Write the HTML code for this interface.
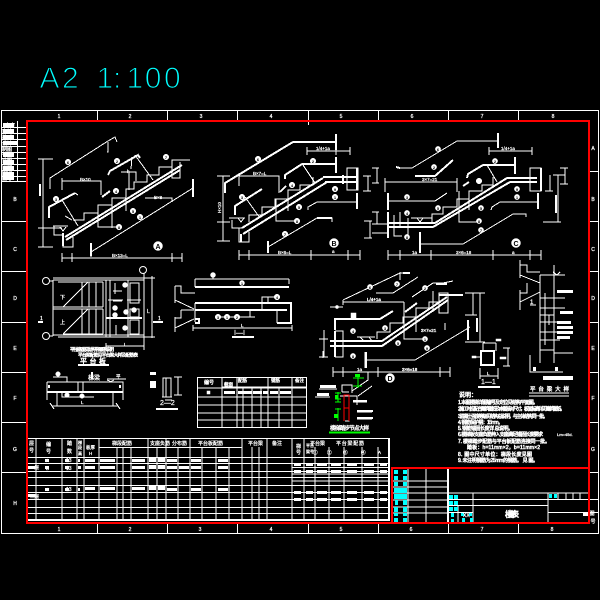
<!DOCTYPE html>
<html><head><meta charset="utf-8"><title>楼梯表</title>
<style>
html,body{margin:0;padding:0;background:#000;width:600px;height:600px;overflow:hidden}
svg{display:block}
text{font-family:"Liberation Sans","Noto Sans CJK SC",sans-serif;fill:#fff;stroke:#fff;stroke-width:.25;font-size:5px;shape-rendering:auto}
.g{fill:none;stroke:#fff;stroke-width:1;shape-rendering:crispEdges}
.b{stroke-width:2}
.f{fill:#fff;stroke:#fff;stroke-width:.5}
.m text{text-anchor:middle}
.n{fill:#000;stroke:none;font-size:4px;text-anchor:middle;font-weight:bold}
.r{fill:none;stroke:#f00;stroke-width:2;shape-rendering:crispEdges}
.c{fill:#0ff;stroke:none;shape-rendering:crispEdges}
.gr{fill:none;stroke:#0f0;stroke-width:1;shape-rendering:crispEdges}
</style></head><body>
<svg width="600" height="600" viewBox="0 0 600 600" xmlns="http://www.w3.org/2000/svg">
<rect width="600" height="600" fill="#000"/>

<text x="39.5 62 80 96.5 113 126.500 144.7 164" y="88" style="font-size:30px;fill:#0ff;stroke:#000;stroke-width:1.1">A2 1:100</text>

<!-- outer frame and rulers -->
<g class="g">
<path d="M1.5 110.5H598.5V533.5H1.5Z"/>
<path d="M97.5 110V121M167.5 110V121M237.5 110V121M308.5 110V125M378.5 110V121M448.5 110V121M518.5 110V121"/>
<path d="M97.5 523V533M167.5 523V533M237.5 523V533M308.5 523V533M378.5 523V533M448.5 523V533M518.5 523V533"/>
<path d="M589 171.5H598M589 221.5H598M589 271.5H598M589 322.5H598M589 372.5H598M589 422.5H598M589 472.5H598M589 499.5H598M589 512.5H598"/>
<path d="M2 181.5H27M2 221.5H27M2 271.5H27M2 322.5H27M2 372.5H27M2 422.5H27M2 472.5H27"/>
<path d="M2 127.5H27M2 133.5H27M2 139.5H27M2 146.5H27M2 152.5H27M2 158.5H27M2 164.5H27M2 170.5H27M2 176.5H27M17.5 121V181"/>
</g>
<g class="m">
<text x="59" y="118">1</text><text x="130" y="118">2</text><text x="201" y="118">3</text><text x="271" y="118">4</text><text x="341" y="118">5</text><text x="412" y="118">6</text><text x="482" y="118">7</text><text x="553" y="118">8</text>
<text x="59" y="531">1</text><text x="130" y="531">2</text><text x="200" y="531">3</text><text x="271" y="531">4</text><text x="341" y="531">5</text><text x="411" y="531">6</text><text x="482" y="531">7</text><text x="552" y="531">8</text>
<text x="593" y="150">A</text><text x="593" y="201">B</text><text x="593" y="251">C</text><text x="593" y="300">D</text><text x="593" y="350">E</text><text x="593" y="400">F</text><text x="593" y="451">G</text>
<text x="15" y="201">B</text><text x="15" y="251">C</text><text x="15" y="300">D</text><text x="15" y="350">E</text><text x="15" y="400">F</text><text x="15" y="451">G</text><text x="15" y="505">H</text>
<text x="592" y="515">图</text><text x="593" y="523">号</text>
<text x="10" y="127">审定</text><text x="7" y="133">审核</text><text x="7" y="139">校对</text><text x="7" y="145">设计</text><text x="7" y="151">制图</text><text x="7" y="157">专业</text><text x="7" y="163">日期</text><text x="7" y="169">比例</text><text x="7" y="175">图别</text><text x="7" y="180">图号</text>
</g>
<path d="M3 123h11v4H3zM3 129h11v4H3zM3 135h11v4H3zM3 141h14v4H3zM3 153h11v4H3zM3 160h11v4H3zM3 166h11v4H3zM3 172h11v4H3zM3 177h11v3H3z" class="f" style="stroke:none"/>

<!-- Stair A -->
<g class="g">
<path d="M50 189V178L108 141L115 137L117 142M107 152H108V142"/>
<path class="b" d="M108 175L110 171L138 155L140 158"/>
<path d="M131 169L132 157"/>
<path class="b" d="M49 218V207L75 193"/><path d="M75 193L78 195"/>
<path d="M91 257V243M91 252L193 188"/><path class="b" d="M193 179V197M91 243V256"/>
<path d="M43 159V247M38 159H53M38 228H62M38 247H53"/><path class="b" d="M40 184V196"/>
<path d="M62 253V262M72 253V262M172 253V262M182 253V262M62 258H182"/>
<path d="M62 181H101V195M62 178V190"/>
<path d="M63 233V247H73V237"/><path class="b" d="M63 233V246"/>
<path d="M53 226H68M54 226V235H63M60 227L63 231L66 227"/>
<path d="M73 220H84V213H98V205H112V198H126V189H134V182H147V175H159V167H172V160H190M172 160V178H180V162"/>
<path class="b" d="M65 237L182 165M66 240L180 170"/><path d="M98 205V227H119M112 205V228M126 198L126 211"/>
<path d="M121 172H136V181M129 172V190M145 198H172V202"/>
<path d="M65 216L72 220M62 200L78 226M135 155L153 180"/>
<path class="b" d="M102 197L110 191"/>
</g>
<g>
<circle class="f" cx="68" cy="162" r="2.8"/><circle class="f" cx="117" cy="161" r="2.8"/><circle class="f" cx="116" cy="191" r="2.8"/><circle class="f" cx="56" cy="199" r="2.8"/><circle class="f" cx="166" cy="157" r="2.8"/><circle class="f" cx="140" cy="217" r="2.8"/><circle class="f" cx="133" cy="211" r="2.8"/><circle class="f" cx="119" cy="227" r="2.8"/>
<circle class="f" cx="158" cy="246" r="4.5"/>
<text class="n" x="68" y="164">6</text><text class="n" x="117" y="163">2</text><text class="n" x="116" y="193">4</text><text class="n" x="56" y="201">3</text><text class="n" x="166" y="159">7</text><text class="n" x="140" y="219">1</text><text class="n" x="133" y="213">5</text><text class="n" x="119" y="229">8</text>
<text class="n" x="158" y="249" style="font-size:7px">A</text>
<text x="80" y="181" style="font-size:4.5px">B×10</text><text x="112" y="257" style="font-size:4.5px">B×13=L</text><text x="154" y="199" style="font-size:4.5px">B×8</text><text x="127" y="173" style="font-size:4.5px">h</text>
</g>

<!-- Stair B -->
<g class="g">
<path class="b" d="M225 193V183L293 142H336M336 134V150"/>
<path class="b" d="M285 179V175L302 164H336M336 157V173"/>
<path class="b" d="M235 215V206L262 189"/>
<path d="M268 247L317 218H332V222"/><path class="b" d="M268 241V253M317 218H332"/>
<path class="b" d="M357 193V209"/><path d="M308 210V207L317 202H357"/>
<path d="M223 176V241M217 176H230M217 222H230M217 241H230"/>
<path d="M239 255H360M239 250V260M249 250V260M311 250V260M348 250V260M360 250V260"/>
<path d="M239 176H279V193M239 173V186"/>
<path d="M307 151H350M307 147V155M350 147V155M336 147V155"/>
<path d="M239 228V242H249V232"/><path class="b" d="M241 234V242"/>
<path d="M229 218H245M232 220V228H242M238 218L241 222L244 218"/>
<path d="M249 222V215H262V207H275V199H288V190H300V185H313V177"/>
<path class="b" d="M242 228L323 178M243 234L327 182M323 177H357M325 182H357"/>
<path d="M276 199V221H297M288 190V211"/>
<path d="M347 168H358V190H347ZM347 168V190"/><path class="b" d="M357 168V190M343 175V184"/>
<path d="M377 168V183M372 168H379M372 183H379M368 176V191M363 176H371M363 191H371"/>
<path d="M303 165L315 183M245 197L260 218"/>
<path class="b" d="M280 192L286 186"/>
</g>
<circle class="f" cx="258" cy="159" r="2.8"/><circle class="f" cx="313" cy="161" r="2.8"/><circle class="f" cx="292" cy="185" r="2.8"/><circle class="f" cx="242" cy="197" r="2.8"/><circle class="f" cx="285" cy="234" r="2.8"/><circle class="f" cx="335" cy="189" r="2.8"/><circle class="f" cx="335" cy="197" r="2.8"/><circle class="f" cx="299" cy="207" r="2.8"/><circle class="f" cx="297" cy="221" r="2.8"/>
<circle class="f" cx="334" cy="243" r="4.5"/>
<text class="n" x="258" y="161">6</text><text class="n" x="313" y="163">2</text><text class="n" x="292" y="187">4</text><text class="n" x="242" y="199">3</text><text class="n" x="285" y="236">7</text><text class="n" x="335" y="191">9</text><text class="n" x="335" y="199">1</text><text class="n" x="299" y="209">5</text><text class="n" x="297" y="223">8</text>
<text class="n" x="334" y="246" style="font-size:7px">B</text>
<text x="253" y="175" style="font-size:4.5px">B×7=L</text><text x="278" y="254" style="font-size:4.5px">B×6=L</text><text x="316" y="150" style="font-size:4.5px">1/4+1a</text><text x="332" y="253" style="font-size:4.5px">a</text>
<text transform="translate(221,213) rotate(-90)" style="font-size:4.5px">H×10</text>

<!-- Stair C -->
<g class="g">
<path class="b" d="M420 232V253"/><path d="M420 244H463L513 214H526V217"/>
<path d="M400 168H412L457 141H498"/><path class="b" d="M498 133V148"/><path class="b" d="M400 168L396 167"/>
<path class="b" d="M388 193V210"/><path d="M388 201H435L447 193"/>
<path d="M385 182H457M457 178V192M385 178V192"/>
<path d="M489 151H532M489 147V155M532 147V155"/>
<path class="b" d="M467 178L468 174L483 165H515M515 157V174"/>
<path class="b" d="M415 176H435L453 160"/>
<path d="M491 210L492 207L500 202H538"/><path class="b" d="M538 193V209"/>
<path d="M411 218H432M432 223V214H443V207H457V199H469V191H482V185H493V177"/>
<path d="M417 218L420 222L423 218"/>
<path class="b" d="M388 223H435L507 178H537M388 227H433L510 182H537"/>
<path class="b" d="M541 168V191M388 212V238"/><path d="M530 168H541V191H530Z"/>
<path d="M565 168V184M560 168H568M560 184H568M558 175V222M553 175H565M543 222H561M550 175V191M545 191H553"/>
<path class="b" d="M556 195V213"/>
<path d="M388 250V260M400 250V260M431 250V260M493 250V260M530 250V260M541 250V260M388 255H541"/>
<path d="M377 212V224M372 212H379M370 221V238M364 221H372M364 238H372M372 224H387M372 233H387"/>
<path d="M394 215V236H402M400 212V226M408 218V236"/>
<path d="M459 191V222H479M469 191V210M487 165L497 182"/>
<path class="b" d="M463 186L469 182"/>
</g>
<circle class="f" cx="438" cy="149" r="2.6"/><circle class="f" cx="434" cy="167" r="2.6"/><circle class="f" cx="495" cy="161" r="2.6"/><circle class="f" cx="479" cy="181" r="2.8"/><circle class="f" cx="407" cy="197" r="2.6"/><circle class="f" cx="407" cy="213" r="2.6"/><circle class="f" cx="438" cy="208" r="2.6"/><circle class="f" cx="407" cy="237" r="2.6"/><circle class="f" cx="481" cy="208" r="2.6"/><circle class="f" cx="479" cy="221" r="2.6"/><circle class="f" cx="481" cy="230" r="2.6"/><circle class="f" cx="517" cy="189" r="2.6"/><circle class="f" cx="517" cy="197" r="2.6"/>
<circle class="f" cx="516" cy="243" r="4.5"/>
<text class="n" x="438" y="151">6</text><text class="n" x="434" y="169">2</text><text class="n" x="495" y="163">2</text><text class="n" x="407" y="199">3</text><text class="n" x="407" y="215">4</text><text class="n" x="438" y="210">5</text><text class="n" x="407" y="239">8</text><text class="n" x="481" y="210">5</text><text class="n" x="479" y="223">8</text><text class="n" x="481" y="232">7</text><text class="n" x="517" y="191">9</text><text class="n" x="517" y="199">1</text>
<text class="n" x="516" y="246" style="font-size:7px">C</text>
<text x="422" y="181" style="font-size:4.5px">3×7=21</text><text x="456" y="254" style="font-size:4.5px">3×6=18</text><text x="501" y="150" style="font-size:4.5px">1/4+1a</text><text x="512" y="254" style="font-size:4.5px">a</text><text x="412" y="254" style="font-size:4.5px">1a</text>

<!-- Plan -->
<g class="g">
<path d="M53 278H144M53 280H144M53 280V336M53 335H144M58 337H144"/>
<path d="M53 307H103M53 309H103M63 307L88 282M63 334L88 309"/>
<path d="M82 282V307M89 282V307M96 282V307M103 282V307M82 309V334M89 309V334M96 309V334M103 309V334M58 282H103M63 334H103"/>
<path d="M106 280V337M110 280V337M128 280V337"/><path class="b" d="M106 318H142"/>
<path d="M130 283H139V303H130ZM130 309H139V317H130ZM130 320H139V334H130Z"/>
<path d="M115 283V294M113 291H122M113 301H122M116 325V335M108 300H123M127 300H141"/>
<path d="M144 273V347M152 276V338M144 278H155M144 337H155M106 343V350M144 343V350M106 346H144"/>
<circle cx="46" cy="281" r="3.5" style="shape-rendering:auto"/><circle cx="46" cy="336" r="3.5" style="shape-rendering:auto"/><circle cx="143" cy="270" r="3.5" style="shape-rendering:auto"/>
<path class="b" d="M38 322H43M153 322H163"/>
<path d="M49 281H53M49 336H53"/>
<path class="b" d="M78 365H109M232 337H254M156 409H178"/>
</g>
<circle class="f" cx="125" cy="285" r="2.5"/><circle class="f" cx="126" cy="312" r="2.5"/><circle class="f" cx="115" cy="308" r="2.5"/><circle class="f" cx="115" cy="315" r="2.5"/><circle class="f" cx="125" cy="328" r="2.5"/><circle class="f" cx="134" cy="310" r="2.5"/>
<text x="60" y="299">下</text><text x="60" y="324">上</text><text x="147" y="313">L</text><text x="124" y="346" style="font-size:4.5px">L</text>
<text x="40" y="320">1</text><text x="158" y="320">1</text>
<text x="70" y="351" textLength="44" style="font-size:4.6px;stroke-width:.45">平台板配筋见结构平面图及说明</text>
<text x="78" y="356.5" textLength="60" style="font-size:4.6px;stroke-width:.45">平台梁配筋见平台梁大样及配筋表</text>
<text x="80" y="363.5" textLength="26" style="font-size:7px;stroke-width:.45">平台板</text>

<!-- Section I-I -->
<g class="g">
<path d="M195 279H289M195 279V287M289 279V284"/><path class="b" d="M195 287H289"/>
<path class="b" d="M195 303H291V323H277M195 310H287"/><path d="M195 303V322M277 310V323"/><path class="b" d="M195 319H199V323H195"/>
<path d="M175 286H181V293H195M175 300L194 309M175 286V303M181 310H194M181 310V318H175M175 317V332M175 328L194 319"/>
<path d="M193 328H292M193 325V331M292 325V331"/>
<path d="M262 310V297H277M268 297V303M250 310V317H237M218 317H255"/>
<path d="M213 279V276"/>
</g>
<circle cx="242" cy="283" r="2.5" class="f"/><circle cx="213" cy="275" r="2.5" class="f"/><circle cx="218" cy="317" r="2.8" class="f"/><circle cx="227" cy="317" r="2.8" class="f"/><circle cx="237" cy="317" r="2.8" class="f"/><circle cx="277" cy="297" r="2.8" class="f"/>
<text class="n" x="242" y="285">1</text><text class="n" x="218" y="319">3</text><text class="n" x="227" y="319">1</text><text class="n" x="237" y="319">2</text><text class="n" x="277" y="299">4</text>
<text x="234" y="335" style="font-size:7px;stroke-width:.2">I—I</text><text x="241" y="327" style="font-size:4.5px">L</text>

<!-- Beam detail -->
<g class="g">
<path d="M47 382H123V392M47 382V392"/><path class="b" d="M47 392H123"/>
<path d="M47 392V400M57 392V406M113 392V406M123 392V400M52 406H118M50 403L54 409M116 403L120 409"/>
<path d="M53 377H67V382M107 379H126M107 380L112 382H110L114 380"/>
<path d="M62 393V397H94M78 382V392M83 382V392"/><path class="b" d="M49 385V388M120 385V388"/>
<path d="M163 378H171V397H163ZM166 378V397M162 397H172M178 377V395M174 377H182M174 395H182M165 400H172"/>
<path class="b" d="M92 372V379"/>
</g>
<circle class="f" cx="58" cy="374" r="2.3"/><circle class="f" cx="67" cy="395" r="2.3"/><circle class="f" cx="82" cy="396" r="2.3"/>
<text x="88" y="380" style="font-size:6px">梯梁</text><text x="116" y="378" style="font-size:4.5px">平</text><text x="81" y="404" style="font-size:4.5px">L</text>
<path class="f" d="M150 372h6v3h-6zM150 381h6v7h-6z" style="stroke:none"/>
<text x="160" y="405" style="font-size:7px;stroke-width:.2">2—2</text>

<!-- small table -->
<g class="g">
<path d="M197.500 377.500H306.500V427.500H197.500Z"/>
<path d="M222 387H306M197 388H306M197 397H306M197 405H306M197 413H306M197 420H306"/>
<path d="M222 377V427M237 377V427M243 388V427M252 388V427M261 388V427M268 377V427M279 388V427M292 377V427"/>
</g>
<text x="204" y="384" style="stroke-width:.35">编号</text><text x="224" y="386" style="font-size:4.5px;stroke-width:.35">截面</text><text x="238" y="382" style="font-size:4.5px;stroke-width:.35">配筋</text><text x="271" y="382" style="font-size:4.5px;stroke-width:.35">钢筋</text><text x="295" y="382" style="font-size:4.5px;stroke-width:.35">备注</text>
<path class="f" d="M224 391h11v3h-11zM238 391h14v3h-14zM253 391h9v3h-9zM263 391h5v3h-5zM270 391h8v3h-8zM280 391h11v3h-11z" style="stroke:none"/><rect class="f" x="207" y="391" width="3" height="3"/>

<!-- Stair D -->
<g class="g">
<path d="M343 300V305M343 300L400 273H410M400 272V280"/><path class="b" d="M403 273H410"/>
<path d="M376 293H393L418 277"/>
<path d="M343 302H404M404 302V317M330 307H343"/>
<path class="b" d="M335 330V319H380L393 311"/>
<path d="M412 297L433 283H443L453 281"/><path class="b" d="M436 284H447"/>
<path class="b" d="M405 312L417 303M439 295H463"/>
<path d="M365 368V352M365 360H415L470 327M468 320V340"/><path class="b" d="M366 352V368M468 320V340"/>
<path d="M335 331H343V357H335"/><path class="b" d="M335 331V357"/>
<path class="b" d="M330 341H382L447 297M330 346H382L448 300"/>
<path d="M377 339V332H390V323H403V317H416V308H429V302H439V293H448V313H439V295"/>
<path d="M357 337H375M360 337L364 341M369 337L372 341"/>
<path d="M404 317V339H425M416 317V332"/>
<path d="M480 293V342M473 293V315M465 293H485M465 315H477M465 342H485"/><path class="b" d="M477 318V332"/>
<path d="M333 372H450M333 367V377M343 367V377M378 367V377M440 367V377M450 367V377"/>
<path d="M324 330V357M319 339H328M319 357H328M323 351V358"/>
<path d="M433 291V312M445 323V330"/>
</g>
<circle class="f" cx="390" cy="378" r="4.5"/><text class="n" x="390" y="381" style="font-size:7px">D</text>
<circle class="f" cx="370" cy="287" r="2.6"/><circle class="f" cx="397" cy="284" r="2.6"/><circle class="f" cx="425" cy="288" r="2.6"/><rect class="f" x="351" y="313" width="5" height="5"/><circle class="f" cx="385" cy="328" r="2.6"/><circle class="f" cx="353" cy="331" r="2.6"/><circle class="f" cx="353" cy="356" r="2.6"/><circle class="f" cx="398" cy="343" r="2.6"/><circle class="f" cx="427" cy="348" r="2.6"/><circle class="f" cx="425" cy="339" r="2.6"/><circle class="f" cx="337" cy="307" r="1.6"/>
<text class="n" x="370" y="289">6</text><text class="n" x="397" y="286">7</text><text class="n" x="425" y="290">2</text><text class="n" x="385" y="330">3</text><text class="n" x="353" y="333">4</text><text class="n" x="353" y="358">8</text><text class="n" x="398" y="345">5</text><text class="n" x="427" y="350">9</text><text class="n" x="425" y="341">1</text>
<text x="367" y="301" style="font-size:4.5px;stroke-width:.35">L/4+1a</text><text x="421" y="332" style="font-size:4.5px;stroke-width:.35">3×7=21</text><text x="402" y="371" style="font-size:4.5px;stroke-width:.35">3×6=18</text><text x="357" y="371" style="font-size:4.5px">1a</text>

<!-- connection detail -->
<g class="g">
<path d="M319 389H337M315 397H330M342 392V385H352V393M352 391L368 380V372H362M358 396L372 386M340 396H357V405"/>
<path d="M342 392H349M353 402H367M357 412H372M357 419H372M349 408V421H345"/>
</g>
<path class="f" d="M320 385h16v3h-16zM317 393h12v3h-12zM353 400h14v2h-14zM357 410h16v2h-16zM357 417h16v2h-16z" style="stroke:none"/>
<path class="r" style="stroke-width:1" d="M344 395H349V408H344ZM344 395V421M349 408V421"/>
<path class="gr" d="M358 375V388M353 378H364M353 386H362M338 392V402M335 393H341M335 399H341M335 402H341M338 408V421M335 409H341"/>
<rect x="334" y="414" width="4" height="4" fill="#0f0"/><rect x="355" y="374" width="5" height="3" fill="#0f0"/><rect x="335" y="395" width="3" height="4" fill="#0f0"/>
<path class="gr" style="stroke-width:2" d="M329 432.500H370"/>
<text x="330" y="430" textLength="39" style="font-size:5.5px;stroke-width:.4">楼梯踏步节点大样</text>

<!-- section 1-1 -->
<g class="g">
<path class="b" d="M481 351H494V365H481Z"/>
<path d="M483 343V351M496 343V351M483 343H496M480 368V379M498 368V379M480 376H498M503 348H510M503 366H510M508 348V366M473 357H481"/>
<path class="b" d="M478 387H500"/>
</g>
<rect class="f" x="496" y="339" width="5" height="2"/><rect class="f" x="472" y="356" width="4" height="2"/><rect class="f" x="500" y="357" width="6" height="2"/>
<text x="481" y="384" style="font-size:7px;stroke-width:.2">1—1</text><text x="487" y="375" style="font-size:4.5px">L</text>

<!-- platform beam section -->
<g class="g">
<path d="M540 275V363M554 275V363M540 275H565M554 265V278"/>
<path d="M520 265H527V272H540M520 275L540 283M520 260V278M527 283V293H520M520 302L540 292M520 290V310"/>
<path d="M540 298H565M540 308H565M540 315H554M540 322H568M540 332H560M540 340H560M540 350H554M554 353H573M530 355V372H563M553 272L557 275L560 272"/>
<path d="M545 293V345M549 315V325"/>
<path d="M529 393H569M529 396H569"/>
<path d="M530 305H536"/>
</g>
<path class="f" d="M557 290h16v3h-16zM560 311h13v3h-13zM557 321h14v3h-14zM557 326h16v3h-16zM557 331h16v3h-16zM557 336h13v3h-13zM543 376h30v4h-30zM533 367h3v4h-3zM555 367h3v4h-3z" style="stroke:none"/>
<text x="530" y="304" style="font-size:6px">1</text>
<text x="530" y="391" textLength="39" style="font-size:5.500px;stroke-width:.4">平台梁大样</text>

<!-- notes -->
<g>
<text x="459" y="397" style="font-size:6px;stroke-width:.5">说明：</text>
<text x="458" y="404" textLength="80" style="stroke-width:.5">1. 本图楼梯详图编号及定位见结构平面图。</text>
<text x="458" y="410.500" textLength="107" style="stroke-width:.5">2. 施工时应配合建筑图纸及本图核对尺寸，板面标高详见建筑图纸。</text>
<text x="458" y="418" textLength="90" style="stroke-width:.5">3. 混凝土强度等级见结构总说明，与主体结构同一批。</text>
<text x="458" y="424" textLength="45" style="stroke-width:.5">4. 钢筋保护层：15mm。</text>
<text x="458" y="430" textLength="55" style="stroke-width:.5">5. 钢筋锚固长度详 总说明。</text>
<text x="458" y="436" textLength="85" style="stroke-width:.5">6. 楼梯板支座负筋伸入支座满足锚固长度要求</text>
<text x="557" y="436" style="font-size:4px">Lm=45d.</text>
<text x="458" y="443" textLength="92" style="stroke-width:.5">7. 楼梯踏步配筋与平台板配筋连接同一批。</text>
<text x="467" y="449" textLength="73" style="stroke-width:.5">踏板：h=11mm×2，b=11mm×2</text>
<text x="458" y="456" textLength="74" style="stroke-width:.5">8. 图中尺寸单位：梯段长度见图</text>
<text x="458" y="462" textLength="80" style="stroke-width:.5">9. 未注明钢筋为25mm的钢筋。 见 图。</text>
</g>

<!-- large table -->
<g class="g">
<path d="M27 438.500H389M99 447.500H242M27 457.500H389M27 463.500H389M27 471.500H389M27 477.500H389M27 485.500H389M27 492.500H389M27 499.500H389M27 507.500H389M27 513.500H389"/>
<path d="M292 467.500H389M292 474H389M292 481H389"/>
<path d="M36 438V520M62 438V520M77 438V520M84 438V520M99 438V520M117 447V520M123 447V520M131 447V520M148 438V520M157 447V520M166 438V520M178 447V520M190 438V520M202 447V520M216 447V520M229 447V520M242 438V520M252 447V520M259 447V520M267 438V520M292 438V520M304 438V520M315 447V520M329 447V520M344 447V520M362 447V520M378 447V520"/>
<path class="b" d="M27 520H390M389 438V520"/>
</g>
<g style="stroke-width:.4">
<text x="29" y="445">层</text><text x="29" y="452">号</text><text x="46" y="446">编</text><text x="46" y="453">号</text><text x="67" y="445">踏</text><text x="67" y="453">数</text>
<text x="78" y="444" style="font-size:4px">梯</text><text x="78" y="449" style="font-size:4px">段</text><text x="78" y="455" style="font-size:4px">高</text>
<text x="86" y="449" style="font-size:4.5px">板厚</text><text x="89" y="455" style="font-size:4.5px">H</text>
<text x="112" y="445">梯段配筋</text><text x="150" y="445">支座负筋</text><text x="172" y="445">分布筋</text><text x="198" y="445">平台板配筋</text><text x="248" y="445">平台梁</text><text x="272" y="445">备注</text>
<text x="296" y="448">梯</text><text x="296" y="454">号</text><text x="306" y="447" style="font-size:4px">平台</text><text x="306" y="453" style="font-size:4px">梁号</text>
<text x="336" y="445" textLength="28">平台梁配筋</text>
<text x="30" y="469" style="font-size:4.5px">一层</text><text x="30" y="498" style="font-size:4.5px">二层</text>
<text x="46" y="462" style="font-size:4.5px">A</text><text x="46" y="470" style="font-size:4.5px">B</text><text x="46" y="491" style="font-size:4.5px">C</text>
<text x="66" y="462">13</text><text x="66" y="470">13</text><text x="66" y="491">13</text>
</g>
<path class="f" style="stroke:none" d="M85 459h10v3h-10zM100 459h15v3h-15zM132 459h13v3h-13zM149 458h7v4h-7zM158 458h7v4h-7zM167 459h10v3h-10zM191 459h10v3h-10zM218 459h10v3h-10zM85 466h10v3h-10zM100 466h15v3h-15zM132 466h13v3h-13zM149 465h7v4h-7zM158 465h7v4h-7zM167 466h10v3h-10zM179 466h10v3h-10zM191 466h10v3h-10zM218 466h10v3h-10zM85 487h10v3h-10zM100 487h15v3h-15zM132 487h13v3h-13zM149 486h7v4h-7zM158 486h7v4h-7zM167 488h10v3h-10zM191 488h10v3h-10zM218 488h10v3h-10z"/>
<path class="f" style="stroke:none" d="M294 463h7v3h-7zM306 463h7v3h-7zM317 463h10v3h-10zM331 463h10v3h-10zM347 463h10v3h-10zM364 463h10v3h-10zM380 463h7v3h-7zM294 470h7v3h-7zM306 470h7v3h-7zM317 470h10v3h-10zM331 470h10v3h-10zM347 470h10v3h-10zM364 470h10v3h-10zM380 470h7v3h-7zM294 491h7v3h-7zM306 491h7v3h-7zM317 491h10v3h-10zM331 491h10v3h-10zM347 491h10v3h-10zM364 491h10v3h-10zM380 491h7v3h-7zM294 498h7v3h-7zM306 498h7v3h-7zM317 498h10v3h-10zM331 498h10v3h-10zM347 498h10v3h-10zM364 498h10v3h-10zM380 498h7v3h-7z"/>
<path class="f" style="stroke:none" d="M28 466h7v3h-7zM28 494h7v3h-7zM45 459h4v3h-4zM45 466h4v3h-4zM45 488h4v3h-4zM65 459h4v3h-4zM65 466h4v3h-4zM65 488h4v3h-4zM78 459h2v3h-2zM78 466h3v3h-3zM78 488h2v3h-2z"/>
<g style="stroke-width:.35">
<text x="310" y="445">平台梁</text>
<text x="313" y="454" style="font-size:4.5px">①</text><text x="327" y="454" style="font-size:4.5px">②</text><text x="343" y="454" style="font-size:4.5px">③</text><text x="361" y="454" style="font-size:4.5px">④</text><text x="378" y="454" style="font-size:4.5px">A</text>
</g>

<!-- title block -->
<g class="g">
<path d="M408 468V523M426 468V523M392 481H448M392 487H448M392 493H448M392 500H448M392 507H448M392 513H448"/>
<path d="M448 493H589M448 499.500H589M448 505.500H548M548 512.500H589M448 512.500H473"/>
<path d="M473 493V523M548 493V523M558 493V499M566 493V499M573 493V499M580 493V499M458 505V523"/>
<path class="b" d="M448 468V523"/>
</g>
<path class="c" d="M394 470h4v4h-4zM403 470h4v4h-4zM394 476h4v4h-4zM403 476h4v4h-4zM394 482h4v4h-4zM403 482h4v4h-4zM394 488h13v5h-13zM394 494h13v5h-13zM395 500h3v5h-3zM403 500h4v5h-4zM394 507h4v5h-4zM403 507h4v5h-4zM394 513h4v3h-4zM403 513h4v3h-4zM394 518h4v4h-4zM403 518h4v4h-4z"/>
<path class="c" d="M449 495h4v4h-4zM454 495h4v4h-4zM449 501h4v4h-4zM454 501h4v4h-4zM449 507h4v4h-4zM454 507h4v4h-4zM451 513h3v4h-3zM451 519h3v3h-3zM461 513h3v3h-3zM469 513h3v3h-3zM462 518h3v4h-3zM470 518h3v4h-3zM549 494h3v4h-3zM554 494h3v4h-3z"/>
<text x="463" y="517">XX</text>
<text x="505" y="517" textLength="14" style="font-size:8px;stroke-width:.6">楼梯表</text>
<rect class="f" x="583" y="512" width="5" height="4" style="stroke:none"/>

<!-- red frame -->
<path class="r" d="M27 121H589V523H27Z"/>
<path class="r" d="M392 523V468H589"/>
</svg>
</body></html>
